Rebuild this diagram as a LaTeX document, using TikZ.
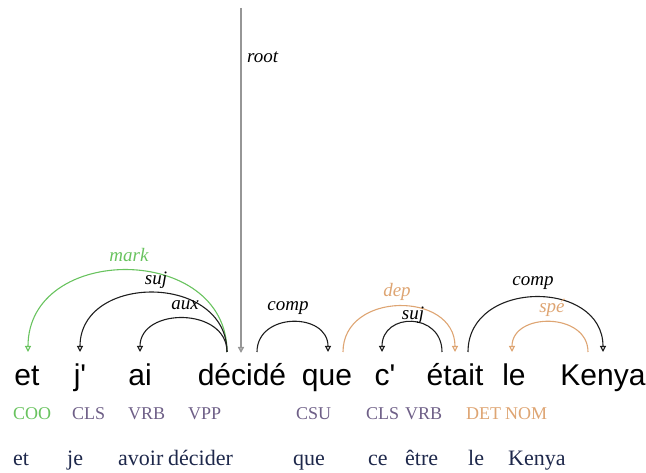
\documentclass[tikz,border=0pt]{standalone}
\usepackage{fontspec}
\setmainfont{Liberation Serif}
\newfontfamily\wsans{Liberation Sans}
\usetikzlibrary{arrows.meta}
\definecolor{arcblack}{RGB}{30,30,30}
\definecolor{mgreen}{RGB}{105,195,95}
\definecolor{morange}{RGB}{222,165,115}
\definecolor{mpurple}{RGB}{110,95,135}
\definecolor{mnavy}{RGB}{30,40,75}
\definecolor{rootgray}{RGB}{150,150,150}
\tikzset{
  word/.style={anchor=base, inner sep=0pt, font=\wsans\fontsize{30}{36}\selectfont, text=black},
  tag/.style={anchor=base west, inner sep=0pt, font=\fontsize{18}{21}\selectfont},
  lemma/.style={anchor=base west, inner sep=0pt, font=\fontsize{22}{26}\selectfont, text=mnavy},
  rel/.style={inner sep=0pt, font=\itshape\fontsize{19}{22}\selectfont},
  deparc/.style={line width=1.1pt, -{Triangle[open,length=6pt,width=6pt]}},
}
\begin{document}
\begin{tikzpicture}[x=1pt,y=-1pt]
\useasboundingbox (0,0) rectangle (646,473);

% words
\node[word] (w1) at (27,385) {et};
\node[word] (w2) at (80,385) {j'};
\node[word] (w3) at (140,385) {ai};
\node[word] (w4) at (242,385) {décidé};
\node[word] (w5) at (327,385) {que};
\node[word] (w6) at (385,385) {c'};
\node[word] (w7) at (455,385) {était};
\node[word] (w8) at (514,385) {le};
\node[word] (w9) at (603,385) {Kenya};

% tags
\node[tag, text=mgreen] (t1) at (13,420) {COO};
\node[tag, text=mpurple] (t2) at (72,420) {CLS};
\node[tag, text=mpurple] (t3) at (128,420) {VRB};
\node[tag, text=mpurple] (t4) at (188,420) {VPP};
\node[tag, text=mpurple] (t5) at (296,420) {CSU};
\node[tag, text=mpurple] (t6) at (366,420) {CLS};
\node[tag, text=mpurple] (t7) at (405,420) {VRB};
\node[tag, text=morange] (t8) at (466,420) {DET};
\node[tag, text=morange] (t9) at (505,420) {NOM};

% lemmas
\node[lemma] (l1) at (13,465) {et};
\node[lemma] (l2) at (67,465) {je};
\node[lemma] (l3) at (118,465) {avoir};
\node[lemma] (l4) at (168,465) {décider};
\node[lemma] (l5) at (293,465) {que};
\node[lemma] (l6) at (368,465) {ce};
\node[lemma] (l7) at (405,465) {être};
\node[lemma] (l8) at (468,465) {le};
\node[lemma] (l9) at (508,465) {Kenya};

% arc end points
\coordinate (rootTop) at (241,8);
\coordinate (decRoot) at (241,353);
\coordinate (decL) at (227,352);
\coordinate (decR) at (257,352);
\coordinate (etIn) at (28,352);
\coordinate (jIn) at (80,352);
\coordinate (aiIn) at (140,352);
\coordinate (queIn) at (328,352);
\coordinate (queOut) at (343,352);
\coordinate (cIn) at (382,352);
\coordinate (etaitIn) at (455,352);
\coordinate (etaitL) at (442,352);
\coordinate (etaitR) at (468,352);
\coordinate (leIn) at (512,352);
\coordinate (kenIn) at (603,352);
\coordinate (kenOut) at (588,352);

% root
\draw[line width=2pt, rootgray, -{Triangle[open,length=6pt,width=6pt]}] (rootTop) -- (decRoot);
\node[rel, anchor=west] (lroot) at (247,57) {root};

% arcs
\draw[deparc, mgreen] (decL) .. controls +(0,-109) and +(0,-109) .. (etIn);
\draw[deparc, arcblack] (decL) .. controls +(0,-79) and +(0,-79) .. (jIn);
\draw[deparc, arcblack] (decL) .. controls +(0,-45) and +(0,-45) .. (aiIn);
\draw[deparc, arcblack] (decR) .. controls +(0,-40) and +(0,-40) .. (queIn);
\draw[deparc, morange] (queOut) .. controls +(0,-61) and +(0,-61) .. (etaitIn);
\draw[deparc, arcblack] (etaitL) .. controls +(0,-40) and +(0,-40) .. (cIn);
\draw[deparc, arcblack] (etaitR) .. controls +(0,-73) and +(0,-73) .. (kenIn);
\draw[deparc, morange] (kenOut) .. controls +(0,-40) and +(0,-40) .. (leIn);

% labels
\node[rel, text=mgreen] (lmark) at (129,255) {mark};
\node[rel] (lsuj1) at (156,280) {suj};
\node[rel] (laux) at (185,305) {aux};
\node[rel] (lcomp1) at (288,308) {comp};
\node[rel, text=morange] (ldep) at (397,292) {dep};
\node[rel] (lsuj2) at (413,315) {suj};
\node[rel] (lcomp2) at (533,283) {comp};
\node[rel, text=morange] (lspe) at (552,308) {spé};
\end{tikzpicture}
\end{document}
